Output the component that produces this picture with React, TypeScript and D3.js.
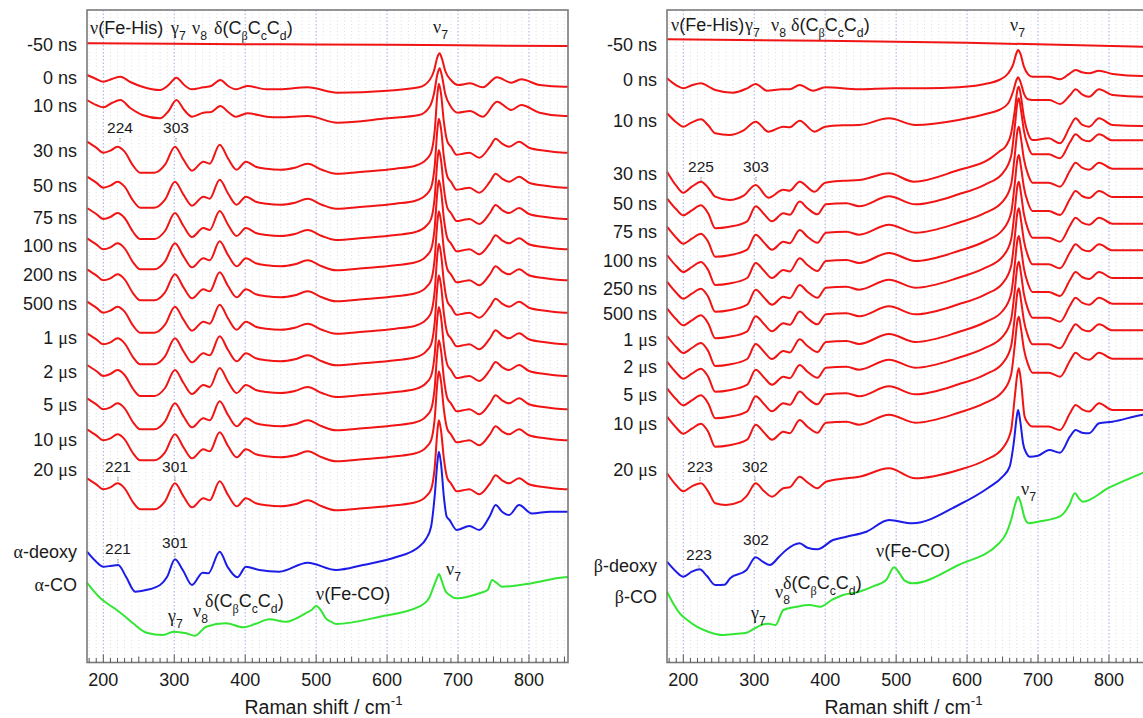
import React from 'react';
import * as d3 from 'd3';

type Pt = [number, number];

// ---------- spectral shapes (x: Raman shift cm-1, y: intensity relative to trace start) ----------
const flatL: Pt[] = [[177, 0], [300, -0.5], [450, -1], [600, -1.5], [700, -2], [855, -2.7]];
const flatR: Pt[] = [[177, 0], [400, -1.5], [600, -3.5], [855, -7.5]];

const l0: Pt[] = [[177,0],[190,-4],[200,-6.7],[212,-4],[224,-1.7],[238,-7],[255,-11.7],[280,-15],[292,-10],[303,-2.7],[314,-10],[325,-14.3],[341,-12.3],[352,-11],[365,-5],[376,-11],[387,-14.3],[403,-11],[430,-14.3],[448,-14.3],[488,-12.3],[530,-17.7],[600,-15.7],[645,-12.3],[660,-5],[666,4],[671,18],[674,21.7],[677,17],[682,4],[690,-5],[700,-10],[717,-8.3],[735,-12.3],[755,-2.3],[775,-7.7],[789,-4.3],[815,-10],[850,-11.7],[855,-11.7]];
const l10: Pt[] = [[177,0],[190,-5],[200,-7.3],[212,-3],[224,0],[238,-8],[255,-15],[280,-18.3],[292,-11],[303,0],[314,-10],[325,-16.7],[341,-12.7],[352,-12],[365,-6],[376,-12],[387,-16.7],[403,-13.3],[430,-16.7],[448,-17.3],[488,-16],[530,-22.7],[600,-18.3],[645,-15],[660,-6.7],[666,6],[671,26],[674,31.7],[677,25],[682,6],[690,-6.7],[700,-12.7],[717,-11],[735,-16.7],[755,-1.7],[775,-10],[789,-5],[815,-12.7],[850,-16],[855,-16]];
const lMain: Pt[] = [[177,0],[190,-6],[200,-11],[210,-9],[220,-5],[230,-10],[242,-24],[252,-31],[272,-31],[287,-23],[301,-5],[313,-18],[325,-29],[341,-20],[350,-22],[364,-3],[376,-17],[388,-28],[401,-20],[415,-25],[430,-27],[450,-28],[470,-26],[488,-22],[508,-28],[528,-32],[566,-30],[612,-27],[640,-24],[655,-18],[662,-11],[667,10],[671,48],[673,58],[676,48],[680,20],[685,0],[690,-5],[698,-13],[707,-12],[716,-11],[730,-16],[745,-5],[753,3],[762,-2],[772,-5],[786,0],[800,-6],[823,-9],[850,-11],[855,-11]];
const lDeoxy: Pt[] = [[177,0],[190,-10],[200,-15],[212,-14],[221,-13.3],[232,-25],[245,-40],[260,-38.3],[280,-33.3],[290,-25],[301,-7.6],[312,-18.3],[325,-33.3],[340,-21],[348,-21.6],[364,0],[375,-15],[389,-25.6],[401,-15],[420,-18.3],[448,-20],[488,-11],[528,-18.3],[566,-13.3],[612,-5.6],[645,5],[655,13],[662,25],[667,55],[671,90],[673,100],[676,88],[680,55],[684,35],[688,31.7],[698,21.7],[716,25.7],[730,21.7],[745,36],[753,46.7],[762,40],[772,36.7],[786,46.7],[804,38.3],[830,40],[855,40]];
const lCO: Pt[] = [[177,0],[186,-8],[196,-15.6],[208,-22],[219,-27.3],[231,-34],[242,-40.6],[261,-50],[284,-52.3],[299,-49],[317,-50.6],[329,-53],[345,-44],[373,-40.6],[397,-44.6],[415,-41],[434,-36.6],[457,-39],[485,-30.6],[494,-27],[500,-23.3],[507,-28],[514,-36],[521,-39],[528,-41.3],[590,-34],[645,-24],[659,-15.6],[665,-5],[670,4],[673,8.7],[677,2],[682,-8],[688,-12.3],[698,-15.6],[730,-10.6],[742,-7],[748,2.7],[754,0],[762,-4],[800,-1],[850,5.4],[855,5.6]];

const r0: Pt[] = [[177,0],[190,-7],[200,-10],[212,-7],[225,-5],[235,-8],[245,-11.7],[270,-14.4],[290,-10],[302,-5.7],[318,-12.4],[339,-11],[350,-11],[364,-6.7],[383,-12.4],[400,-9],[448,-11],[495,-10],[542,-10],[588,-9],[630,-5],[645,-1.7],[658,5],[665,14],[670,26],[672,28.3],[675,25],[680,12],[686,4],[692,1.6],[715,1.6],[731,-1],[745,5],[753,8.3],[762,6],[772,5],[786,7.6],[805,4.3],[846,2.3],[855,2.3]];
const r10: Pt[] = [[177,0],[190,-9],[200,-13.4],[212,-9],[225,-6],[235,-12],[245,-20],[265,-21.7],[285,-17],[302,-8.4],[320,-18.4],[341,-13.4],[350,-14],[364,-7.4],[385,-18.4],[400,-13.4],[425,-12],[448,-11.7],[490,-5],[527,-11.7],[588,-6.7],[630,0],[645,3.3],[658,10],[665,22],[670,34],[672,36],[675,32],[680,20],[686,14],[692,13.3],[716,13.3],[731,9.3],[745,18],[753,24],[762,19],[772,16.6],[786,24],[805,18.3],[846,16.6],[855,16.6]];
const r30: Pt[] = [[177,0],[190,-14],[200,-21],[212,-15],[225,-10],[235,-16],[245,-25],[265,-28.3],[285,-24],[302,-13.3],[320,-26],[341,-18],[350,-19],[364,-10],[385,-20],[400,-11],[425,-9],[448,-8.3],[490,-1.6],[525,-10],[588,1.7],[630,12],[645,20],[655,26],[662,38],[667,60],[671,82],[673,85],[676,75],[680,55],[686,38],[692,31.7],[715,33.4],[731,28.4],[745,45],[753,53.4],[762,47],[772,45],[786,53.4],[805,46.7],[846,45.7],[855,45.7]];
const rMain: Pt[] = [[177,0],[190,-11],[200,-17],[212,-12],[225,-7],[235,-15],[245,-30],[265,-28.5],[290,-23],[302,-8],[314,-16],[325,-23],[341,-15],[350,-16.5],[364,-3.3],[375,-10],[389,-16],[401,-6],[430,-5],[448,-8],[490,2],[527,-6],[588,4],[626,14],[650,25],[662,42],[667,70],[671,96],[673,100],[676,88],[680,68],[686,52],[692,44],[715,44],[731,40],[745,56],[753,64],[762,59],[772,57],[786,64],[805,58],[846,58],[855,58]];
const r20: Pt[] = [[177,0],[190,-12],[200,-18],[212,-13],[225,-10],[235,-18],[245,-30],[260,-31.7],[280,-28.4],[290,-22],[302,-10],[314,-18],[325,-23.4],[341,-15],[350,-14],[364,-3.4],[375,-9],[389,-15],[401,-8.4],[430,-5],[448,-3.4],[490,5],[527,-5],[588,3.3],[626,13.3],[650,25],[662,43],[667,75],[671,100],[673,105],[676,92],[681,57],[686,50],[692,46.7],[715,46.7],[731,43.3],[745,60],[753,68.3],[762,64],[772,61.7],[786,70],[805,63.3],[846,63.3],[855,63.3]];
const rDeoxy: Pt[] = [[177,0],[190,-10],[200,-15],[212,-10],[223,-7.6],[233,-14],[245,-23.3],[258,-23],[266,-16.6],[289,-8.3],[302,4.4],[312,0],[322,-3.3],[335,5],[345,11.7],[364,18.4],[375,14],[389,12.4],[411,21.7],[430,25],[458,30],[490,41.7],[523,38.4],[588,56.7],[630,74],[650,85],[660,95],[666,120],[670,145],[672,151.7],[675,140],[679,118],[684,108],[688,105],[700,106],[716,111.7],[731,109],[745,125],[753,131.7],[762,129],[772,128.4],[786,138.4],[805,140],[846,146.7],[855,147.5]];
const rCO: Pt[] = [[177,0],[186,-12],[195,-21.6],[207,-29],[219,-35],[235,-40],[256,-43.3],[275,-42],[289,-41],[300,-37],[310,-33.3],[320,-32],[330,-33.3],[341,-18.3],[360,-15],[378,-13.3],[393,-15],[410,-8],[425,-3.3],[448,0],[470,6],[486,11.7],[497,24.4],[505,18],[512,11],[523,8.4],[588,26.7],[645,48.4],[655,58],[662,71.7],[668,88],[672,95],[676,88],[681,74],[687,68.4],[700,70],[730,75],[740,82],[744,86.7],[752,98.4],[758,93],[763,90],[800,104],[846,118.4],[855,121]];

const shapes: Record<string, Pt[]> = { flatL, flatR, l0, l10, lMain, lDeoxy, lCO, r0, r10, r30, rMain, r20, rDeoxy, rCO };

// ---------- traces ----------
const leftLabels = ['-50 ns', '0 ns', '10 ns', '30 ns', '50 ns', '75 ns', '100 ns', '200 ns', '500 ns', '1 μs', '2 μs', '5 μs', '10 μs', '20 μs', 'α-deoxy', 'α-CO'];
const leftOffsets = [618.7, 587, 562, 520.3, 485.3, 454, 423.7, 392.7, 360.3, 328.7, 297, 263.7, 232.7, 183.7, 110.3, 79.3];
const leftShapes = ['flatL', 'l0', 'l10', 'lMain', 'lMain', 'lMain', 'lMain', 'lMain', 'lMain', 'lMain', 'lMain', 'lMain', 'lMain', 'lMain', 'lDeoxy', 'lCO'];

const rightLabels = ['-50 ns', '0 ns', '10 ns', '30 ns', '50 ns', '75 ns', '100 ns', '250 ns', '500 ns', '1 μs', '2 μs', '5 μs', '10 μs', '20 μs', 'β-deoxy', 'β-CO'];
const rightOffsets = [622.7, 583.7, 548.7, 490.3, 463.7, 435.3, 407, 380.3, 353.7, 326, 300.3, 273.7, 245.3, 188.7, 100.3, 70.3];
const rightShapes = ['flatR', 'r0', 'r10', 'r30', 'rMain', 'rMain', 'rMain', 'rMain', 'rMain', 'rMain', 'rMain', 'rMain', 'rMain', 'r20', 'rDeoxy', 'rCO'];

const xTicksMajor = [200, 300, 400, 500, 600, 700, 800];
const xDomain: [number, number] = [177, 855];

// ---------- layout ----------
const W = 1143, H = 718;
const PANEL_W = 481, TOP = 10, BOTTOM = 662.5;
const leftLabelY = [45, 77.7, 106, 150.7, 185.7, 217.3, 246, 274.3, 303.3, 337.7, 371.7, 405, 439.3, 470, 551.7, 585];
const rightLabelY = [45, 79.3, 120.7, 173.3, 204, 232, 260.7, 288.3, 313.3, 340, 366.7, 395, 423.3, 470, 566, 597];

const SANS = "'Liberation Sans', Arial, Helvetica, sans-serif";
const SERIF = "'Liberation Serif', 'DejaVu Serif', 'Times New Roman', serif";
const RED = '#f01414', BLUE = '#1c1ce6', GREEN = '#33e633';
const INK = '#1a1a1a';

type Part = { t: string; g?: boolean; sub?: boolean; sup?: boolean };

function Rich({ x, y, size, parts, anchor = 'start', fill = INK }: { x: number; y: number; size: number; parts: Part[]; anchor?: string; fill?: string }) {
  let shift = 0;
  const spans = parts.map((p, i) => {
    const target = p.sub ? size * 0.32 : p.sup ? -size * 0.45 : 0;
    const dy = target - shift;
    shift = target;
    return (
      <tspan key={i} dy={dy} fontSize={p.sub || p.sup ? size * 0.68 : size} fontFamily={p.g ? SERIF : SANS}>
        {p.t}
      </tspan>
    );
  });
  return (
    <text x={x} y={y} textAnchor={anchor as any} fontSize={size} fontFamily={SANS} fill={fill}>
      {spans}
    </text>
  );
}

function labelParts(s: string): Part[] {
  const out: Part[] = [];
  for (const ch of s) {
    const g = /[αβμ]/.test(ch);
    const last = out[out.length - 1];
    if (last && !!last.g === g) last.t += ch;
    else out.push({ t: ch, g });
  }
  return out;
}

const nu = (sub?: string): Part[] => (sub ? [{ t: 'ν', g: true }, { t: sub, sub: true }] : [{ t: 'ν', g: true }]);
const gamma7: Part[] = [{ t: 'γ', g: true }, { t: '7', sub: true }];
const delta: Part[] = [{ t: 'δ', g: true }, { t: '(C' }, { t: 'β', g: true, sub: true }, { t: 'C' }, { t: 'c', sub: true }, { t: 'C' }, { t: 'd', sub: true }, { t: ')' }];
const feHis: Part[] = [{ t: 'ν', g: true }, { t: '(Fe-His)' }];
const feCO: Part[] = [{ t: 'ν', g: true }, { t: '(Fe-CO)' }];

const yScale = d3.scaleLinear().domain([0, 652]).range([662, 10]);

function Panel({ x0, labels, offsets, shapeNames, labelY, ann }: { x0: number; labels: string[]; offsets: number[]; shapeNames: string[]; labelY: number[]; ann: React.ReactNode }) {
  const xs = d3.scaleLinear().domain(xDomain).range([x0, x0 + PANEL_W]);
  const minor = d3.range(180, 856, 10);
  const colorOf = (n: string) => (/Deoxy/.test(n) ? BLUE : /CO$/.test(n) ? GREEN : RED);
  return (
    <g>
      {minor.map((v) => (
        <line key={'g' + v} x1={xs(v)} x2={xs(v)} y1={TOP} y2={BOTTOM}
          stroke={v % 100 === 0 ? '#a9a9e6' : '#d6d6de'} strokeWidth={v % 100 === 0 ? 1 : 0.8} strokeDasharray={v % 100 === 0 ? '1.5,2' : '1,2.5'} />
      ))}
      {shapeNames.map((n, i) => {
        const off = offsets[i];
        const line = d3.line<Pt>().x((d) => xs(d[0])).y((d) => yScale(off + d[1])).curve(d3.curveMonotoneX);
        return <path key={'t' + i} d={line(shapes[n]) || ''} fill="none" stroke={colorOf(n)} strokeWidth={2} strokeLinejoin="round" />;
      })}
      <rect x={x0} y={TOP} width={PANEL_W} height={BOTTOM - TOP} fill="none" stroke="#7a7a7a" strokeWidth={1.6} />
      {minor.map((v) => (
        <line key={'k' + v} x1={xs(v)} x2={xs(v)} y1={BOTTOM} y2={BOTTOM - (v % 100 === 0 ? 8 : v % 50 === 0 ? 6 : 4.5)} stroke="#555" strokeWidth={1} />
      ))}
      {xTicksMajor.map((v) => (
        <text key={'l' + v} x={xs(v)} y={685.5} textAnchor="middle" fontSize={18} fontFamily={SANS} fill={INK}>{v}</text>
      ))}
      <Rich x={x0 + PANEL_W / 2 - 4} y={714} size={19.5} anchor="middle" parts={[{ t: 'Raman shift / cm' }, { t: '-1', sup: true }]} />
      {labels.map((s, i) => (
        <Rich key={'n' + i} x={x0 - 10} y={labelY[i] + 6.4} size={18} anchor="end" parts={labelParts(s)} />
      ))}
      {ann}
    </g>
  );
}

function PeakNum({ x, y, t }: { x: number; y: number; t: string }) {
  return (
    <g>
      <text x={x} y={y} textAnchor="middle" fontSize={15.5} fontFamily={SANS} fill={INK}>{t}</text>
      <line x1={x} x2={x} y1={y + 5} y2={y + 10} stroke="#888" strokeWidth={1} strokeDasharray="1.5,1" />
    </g>
  );
}

export default function App() {
  const annL = (
    <g>
      <Rich x={90} y={34} size={18} parts={feHis} />
      <Rich x={171} y={34} size={18} parts={gamma7} />
      <Rich x={192} y={34} size={18} parts={nu('8')} />
      <Rich x={214} y={34} size={18} parts={delta} />
      <Rich x={433} y={33} size={18} parts={nu('7')} />
      <PeakNum x={120} y={133} t="224" />
      <PeakNum x={176} y={133} t="303" />
      <PeakNum x={118} y={472} t="221" />
      <PeakNum x={175} y={472} t="301" />
      <PeakNum x={118} y={554} t="221" />
      <PeakNum x={175} y={548} t="301" />
      <Rich x={168} y={622} size={18} parts={gamma7} />
      <Rich x={193} y={617} size={18} parts={nu('8')} />
      <Rich x={205} y={607} size={18} parts={delta} />
      <Rich x={316} y={600} size={18} parts={feCO} />
      <Rich x={446} y={575} size={18} parts={nu('7')} />
    </g>
  );
  const annR = (
    <g>
      <Rich x={671} y={31} size={18} parts={feHis} />
      <Rich x={745} y={31} size={18} parts={gamma7} />
      <Rich x={771} y={31} size={18} parts={nu('8')} />
      <Rich x={791} y={31} size={18} parts={delta} />
      <Rich x={1010} y={31} size={18} parts={nu('7')} />
      <PeakNum x={701} y={172} t="225" />
      <PeakNum x={756} y={172} t="303" />
      <PeakNum x={700} y={472} t="223" />
      <PeakNum x={755} y={472} t="302" />
      <PeakNum x={699} y={560} t="223" />
      <PeakNum x={756} y={545} t="302" />
      <Rich x={751} y={619} size={18} parts={gamma7} />
      <Rich x={775} y={598} size={18} parts={nu('8')} />
      <Rich x={783} y={589} size={18} parts={delta} />
      <Rich x={876} y={557} size={18} parts={feCO} />
      <Rich x={1021} y={495} size={18} parts={nu('7')} />
    </g>
  );
  return (
    <svg width={W} height={H} style={{ position: 'absolute', left: 0, top: 0, background: '#fff' }}>
      <rect width={W} height={H} fill="#fff" />
      <Panel x0={87} labels={leftLabels} offsets={leftOffsets} shapeNames={leftShapes} labelY={leftLabelY} ann={annL} />
      <Panel x0={667} labels={rightLabels} offsets={rightOffsets} shapeNames={rightShapes} labelY={rightLabelY} ann={annR} />
    </svg>
  );
}
